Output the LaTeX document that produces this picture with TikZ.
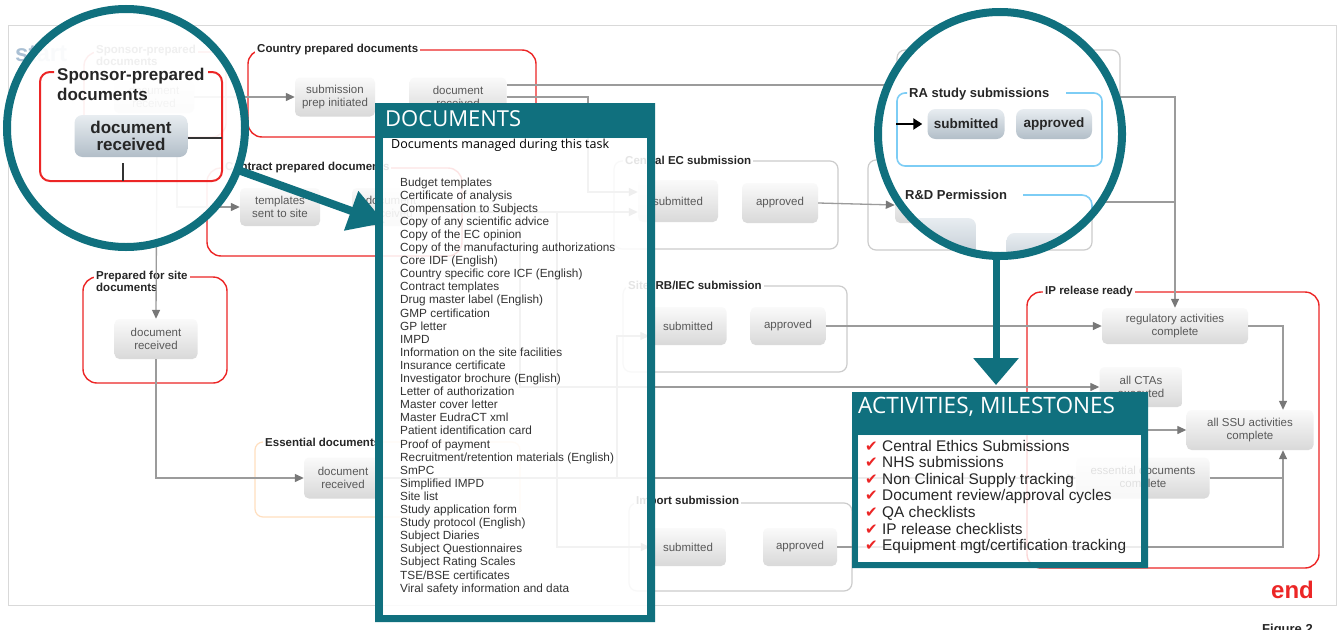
\documentclass[tikz,border=0pt]{standalone}
\usepackage{fontspec}
\setmainfont{Liberation Sans}
\newfontfamily\osans{Open Sans}
\newfontfamily\djv{DejaVu Sans}
\usetikzlibrary{arrows.meta}
\definecolor{tealc}{RGB}{16,112,126}
\definecolor{redc}{RGB}{236,38,38}
\definecolor{bluec}{RGB}{125,205,245}
\definecolor{linec}{RGB}{155,155,155}
\definecolor{headc}{RGB}{120,120,120}
\definecolor{startc}{RGB}{170,192,212}
\definecolor{ctop}{RGB}{232,237,241}
\definecolor{cbot}{RGB}{178,190,200}
\newcommand{\myfs}[2]{\fontsize{#1}{#2}\selectfont}
\tikzset{
  gnode/.style={rounded corners=5pt, top color=gray!4, bottom color=gray!30, text=black!65, font=\myfs{11.5}{13}, align=center, inner sep=0pt},
  cnode/.style={rounded corners=8pt, top color=ctop, bottom color=cbot, text=black!85, align=center, inner sep=0pt},
  grp/.style={draw=gray!40, line width=1.2pt, rounded corners=8pt},
  rgrp/.style={draw=redc, line width=1.4pt, rounded corners=14pt},
  glabel/.style={fill=white, font=\bfseries\myfs{11.5}{12.5}, text=black!85, inner xsep=2pt, inner ysep=1.5pt},
  conn/.style={draw=linec, line width=1.3pt, -{Triangle[length=9pt,width=8pt,fill=headc,color=headc]}},
  wire/.style={draw=linec, line width=1.3pt},
  tealarrow/.style={draw=tealc, line width=8pt, -{Triangle[length=36pt,width=40pt]}},
  itemtxt/.style={anchor=base west, inner sep=0pt, font=\myfs{11.8}{13}, text=black!80},
  acttxt/.style={anchor=base west, inner sep=0pt, font=\myfs{15.4}{16}, text=black!85},
}
\begin{document}
\begin{tikzpicture}[x=1pt,y=-1pt]
\useasboundingbox (0,0) rectangle (1337,629);
\fill[white] (0,0) rectangle (1337,629);
\draw[gray!30, line width=1pt] (8,25) rectangle (1336,605);
\node[anchor=base west, inner sep=0pt, font=\bfseries\myfs{24}{26}, text=startc] (start) at (15,61) {start};

% underlying sponsor group
\draw[rgrp] (84,52) rectangle (226,137);
\node[glabel, anchor=north west, align=left] (lsp) at (94,43) {Sponsor-prepared\\documents};
\node[gnode, minimum width=80pt, minimum height=32pt] (sdr) at (154,97) {document\\received};

% Country
\draw[rgrp] (248,50) rectangle (536,137);
\node[glabel, anchor=west] (lco) at (255,50) {Country prepared documents};
\node[gnode, minimum width=80pt, minimum height=39pt] (sub) at (335,97) {submission\\prep initiated};
\node[gnode, minimum width=97pt, minimum height=39pt] (cdr) at (458,97) {document\\received};

% Contract
\draw[rgrp] (207,168) rectangle (462,256);
\node[glabel, anchor=west] (lct) at (223,168) {Contract prepared documents};
\node[gnode, minimum width=80pt, minimum height=38pt] (tpl) at (280,207) {templates\\sent to site};
\node[gnode, minimum width=78pt, minimum height=38pt] (cdr2) at (391,207) {document\\received};

% Prepared for site
\draw[rgrp] (83,277) rectangle (227,383);
\node[glabel, anchor=north west, align=left] (lpr) at (94,269) {Prepared for site\\documents};
\node[gnode, minimum width=83pt, minimum height=40pt] (pdr) at (156,339) {document\\received};

% Essential
\draw[draw=orange!25, line width=1.2pt, rounded corners=8pt] (255,442) rectangle (520,517);
\node[glabel, anchor=west] (les) at (263,442) {Essential documents};
\node[gnode, minimum width=78pt, minimum height=41pt] (edr) at (343,478) {document\\received};

% Central EC
\draw[grp] (614,161) rectangle (838,249);
\node[glabel, anchor=west] (lce) at (623,160) {Central EC submission};
\node[gnode, minimum width=80pt, minimum height=42pt] (csub) at (678,201) {submitted};
\node[gnode, minimum width=76pt, minimum height=40pt] (capp) at (780,203) {approved};

% R&D and RA underlying
\draw[grp] (868,160) rectangle (1092,250);
\node[gnode, minimum width=80pt, minimum height=36pt] (rd1) at (935,205) {};
\draw[grp] (897,50) rectangle (1120,140);

% Site
\draw[grp] (623,286) rectangle (847,372);
\node[glabel, anchor=west] (lsi) at (626,285) {Site IRB/IEC submission};
\node[gnode, minimum width=77pt, minimum height=38pt] (ssub) at (688,326) {submitted};
\node[gnode, minimum width=75pt, minimum height=38pt] (sapp) at (788,326) {approved};

% Import
\draw[grp] (629,503) rectangle (852,591);
\node[glabel, anchor=west] (lim) at (634,502) {Import submission};
\node[gnode, minimum width=76pt, minimum height=38pt] (isub) at (688,547) {submitted};
\node[gnode, minimum width=74pt, minimum height=38pt] (iapp) at (800,547) {approved};

% IP release
\draw[rgrp] (1027,292) rectangle (1319,568);
\node[glabel, anchor=west] (lip) at (1043,292) {IP release ready};
\node[gnode, minimum width=146pt, minimum height=36pt] (reg) at (1175,326) {regulatory activities\\complete};
\node[gnode, minimum width=83pt, minimum height=40pt] (ctas) at (1141,387) {all CTAs\\executed};
\node[gnode, minimum width=127pt, minimum height=40pt] (ssu) at (1250,430) {all SSU activities\\complete};
\node[gnode, minimum width=133pt, minimum height=41pt] (edc) at (1143,478) {essential documents\\complete};

% connectors
\draw[conn] (sdr.east) -- (sub.west);
\draw[wire] (cdr.east |- 0,85) -- (897,85);
\draw[conn] (cdr.east) -| (588,192) -- (csub.west |- 0,192);
\draw[conn] (cdr2.east |- 0,212) -- (csub.west |- 0,212);
\draw[conn] (177,137) |- (tpl.west);
\draw[conn] (157,137) -- (pdr.north);
\draw[conn] (pdr.south) |- (edr.west);
\draw[conn] (557,212) |- (isub.west);
\draw[conn] (520,212) |- (ctas.west);
\draw[conn] (617,478) |- (ssub.west |- 0,336);
\draw[conn] (edr.east) -- (edc.west);
\draw[conn] (capp.east) -- (rd1.west);
\draw[conn] (1120,97) -| (reg.north);
\draw[wire] (1092,202) -- (reg.north |- 0,202);
\draw[conn] (sapp.east) -- (reg.west);
\draw[conn] (870,430) -- (ssu.west);
\draw[conn] (reg.east) -| (ssu.north -| 1283,0);
\draw[wire] (edc.east) -- (edc.east -| 1283,0);
\draw[conn] (iapp.east) -| (ssu.south -| 1283,0);

% circle 1 (magnifier)
\fill[white, fill opacity=0.93] (126,128) circle (119);
\draw[redc, line width=2pt, rounded corners=10pt] (54,72) -- (40,72) -- (40,181) -- (222,181) -- (222,72) -- (208,72);
\node[anchor=base west, inner sep=0pt, font=\bfseries\myfs{17}{20}, text=black!85] (msp1) at (57,80) {Sponsor-prepared};
\node[anchor=base west, inner sep=0pt, font=\bfseries\myfs{17}{20}, text=black!85] (msp2) at (57,100) {documents};
\node[cnode, minimum width=113pt, minimum height=42pt, font=\bfseries\myfs{17}{17}] (mdr) at (131,136) {document\\received};
\coordinate (mre) at (222,138);
\coordinate (mbt) at (123,181);
\draw[black!80, line width=2.2pt] (mdr.east |- mre) -- (mre);
\draw[black!80, line width=2.2pt] (mbt |- 0,163) -- (mbt);
\draw[tealc, line width=8pt] (126,128) circle (119);

% circle 2 (magnifier)
\fill[white] (1000,134) circle (122);
\begin{scope}
\clip (1000,134) circle (122);
\draw[bluec, line width=1.6pt, rounded corners=8pt] (907,93) -- (897,93) -- (897,166) -- (1102,166) -- (1102,93) -- (1066,93);
\node[anchor=base west, inner sep=0pt, font=\bfseries\myfs{13}{15}, text=black!85] (lra) at (909,97) {RA study submissions};
\node[cnode, minimum width=77pt, minimum height=30pt, font=\bfseries\myfs{13.5}{15}] (msub) at (966,124) {submitted};
\node[cnode, minimum width=76pt, minimum height=30pt, font=\bfseries\myfs{13.5}{15}] (mapp) at (1054,124) {approved};
\coordinate (min) at (896,124);
\draw[black, line width=2pt, shorten >=5pt, -{Triangle[length=9pt,width=11pt]}] (min) -- (msub.west);
\node[anchor=base west, inner sep=0pt, font=\bfseries\myfs{13}{15}, text=black!85] (lrd) at (905,199) {R\&D Permission};
\draw[bluec, line width=1.6pt, rounded corners=10pt] (1023,195) -- (1092,195) -- (1092,262);
\node[cnode, minimum width=68pt, minimum height=56pt] (mn1) at (942,246) {};
\node[cnode, minimum width=83pt, minimum height=48pt] (mn2) at (1048,257) {};
\end{scope}
\draw[tealc, line width=8pt] (1000,134) circle (122);

% teal arrows
\coordinate (a1s) at (238,170);
\coordinate (a1e) at (385,223);
\draw[tealarrow] (a1s) -- (a1e);
\coordinate (a2s) at (996,256);
\coordinate (a2e) at (996,385);
\draw[draw=tealc, line width=7pt, -{Triangle[length=27pt,width=44pt]}] (a2s) -- (a2e);

% DOCUMENTS panel
\fill[tealc, even odd rule] (375,103) rectangle (655,622) (383,138) rectangle (647,615);
\fill[white, fill opacity=0.88] (383,138) rectangle (647,615);
\node[anchor=base west, inner sep=0pt, font=\osans\myfs{22}{24}, text=white] (dh) at (385,126) {DOCUMENTS};
\node[anchor=base west, inner sep=0pt, font=\osans\myfs{12.5}{14}, text=black] (ds) at (391,148) {Documents managed during this task};
\foreach \itm [count=\i from 0] in {Budget templates, Certificate of analysis, Compensation to Subjects, Copy of any scientific advice, Copy of the EC opinion, Copy of the manufacturing authorizations, Core IDF (English), Country specific core ICF (English), Contract templates, Drug master label (English), GMP certification, GP letter, IMPD, Information on the site facilities, Insurance certificate, Investigator brochure (English), Letter of authorization, Master cover letter, Master EudraCT xml, Patient identification card, Proof of payment, Recruitment/retention materials (English), SmPC, Simplified IMPD, Site list, Study application form, Study protocol (English), Subject Diaries, Subject Questionnaires, Subject Rating Scales, TSE/BSE certificates, Viral safety information and data}
  \node[itemtxt] (d\i) at (400,{186+13.1*\i}) {\itm};

% ACTIVITIES panel
\fill[tealc, even odd rule] (852,392) rectangle (1148,568) (858,435) rectangle (1141,562);
\fill[white, fill opacity=0.82] (858,435) rectangle (1141,562);
\node[anchor=base west, inner sep=0pt, font=\osans\myfs{22.6}{24}, text=white] (ah) at (858,413) {ACTIVITIES, MILESTONES};
\foreach \itm [count=\i from 0] in {Central Ethics Submissions, NHS submissions, Non Clinical Supply tracking, Document review/approval cycles, QA checklists, IP release checklists, Equipment mgt/certification tracking}
{
  \node[acttxt] (a\i) at (882,{451+16.6*\i}) {\itm};
  \node[anchor=base west, inner sep=0pt, font=\djv\myfs{15}{16}, text=redc] (k\i) at (865,{451+16.6*\i}) {✔};
}

\node[anchor=base west, inner sep=0pt, font=\bfseries\myfs{24}{26}, text=redc] (endl) at (1271,598) {end};
\node[anchor=base west, inner sep=0pt, font=\bfseries\myfs{13}{15}, text=black!85] (fig) at (1262,633) {Figure 2};
\end{tikzpicture}
\end{document}
